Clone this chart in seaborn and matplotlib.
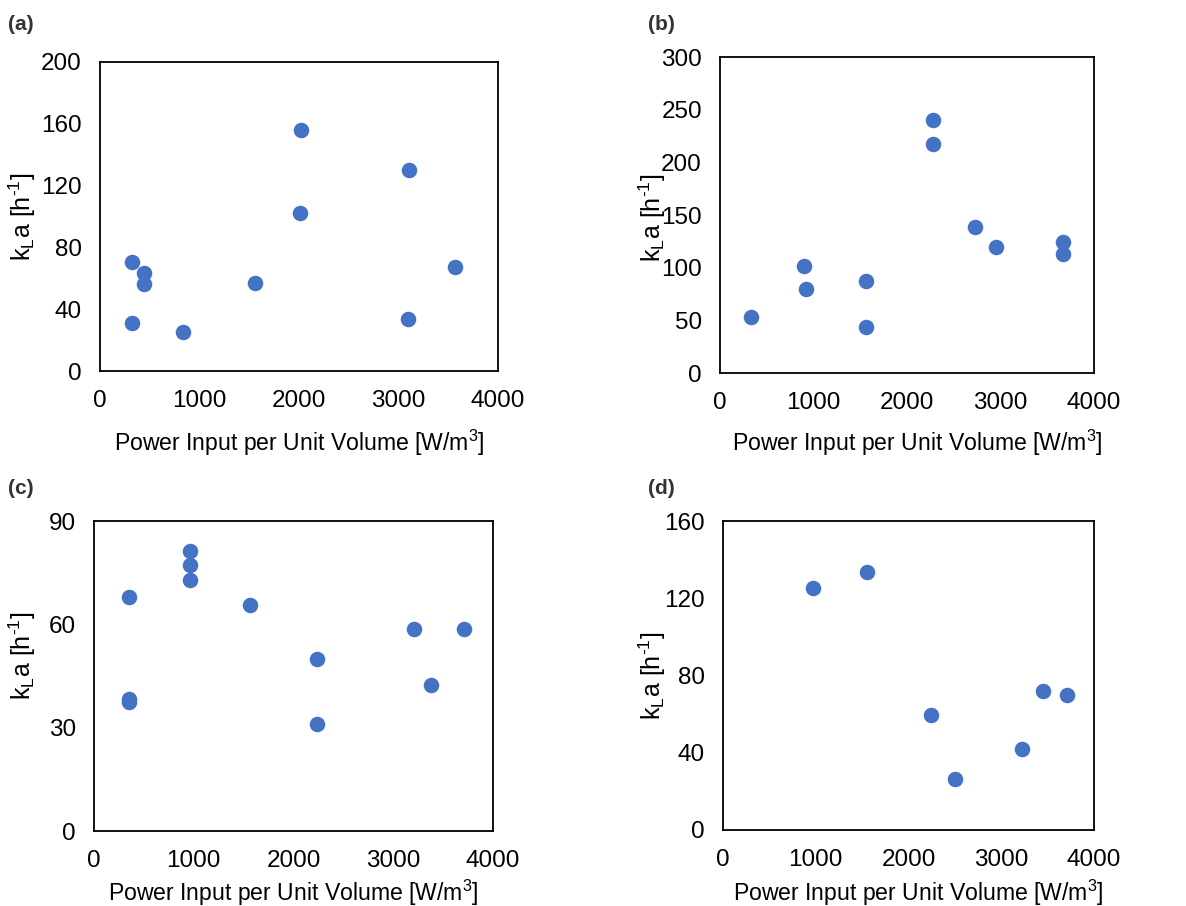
import matplotlib
matplotlib.use("Agg")
import matplotlib.pyplot as plt
import seaborn as sns
import pandas as pd

sns.set_theme(style="white")
plt.rcParams['font.family'] = ['Liberation Sans', 'DejaVu Sans']
plt.rcParams['mathtext.fontset'] = 'custom'
plt.rcParams['mathtext.rm'] = 'Liberation Sans'
plt.rcParams['mathtext.it'] = 'Liberation Sans:italic'

# Data
a_power = [321, 321, 438, 438, 830, 1560, 2008, 2018, 3110, 3100, 3568]
a_kla = [70.8, 31.1, 63.5, 56.2, 25.1, 56.8, 102.2, 155.9, 130.0, 33.9, 67.0]

b_power = [328, 895, 923, 1561, 1561, 2278, 2278, 2724, 2952, 3668, 3668]
b_kla = [53.2, 101.4, 79.5, 87.4, 43.4, 239.8, 217.0, 138.4, 119.4, 123.9, 113.4]

c_power = [348, 348, 348, 964, 964, 964, 1560, 2236, 2236, 3213, 3381, 3712]
c_kla = [68.0, 38.3, 37.4, 81.2, 77.1, 72.9, 65.7, 50.0, 31.2, 58.6, 42.3, 58.6]

d_power = [970, 1556, 2246, 2498, 3227, 3450, 3712]
d_kla = [125.5, 133.8, 59.5, 26.4, 42.1, 71.8, 70.1]

panel_labels = ["(a)", "(b)", "(c)", "(d)"]
y_max = [200, 300, 90, 160]
y_step = [40, 50, 30, 40]
x_ticks = [0, 1000, 2000, 3000, 4000]

xlabel = "Power Input per Unit Volume [W/m$^{3}$]"
ylabel = "k$_{\\mathrm{L}}$a [h$^{\\text{-}1}$]"

W, H = 1186, 906
fig = plt.figure(figsize=(W / 100, H / 100), dpi=100)

# axes boxes in pixels: left, right, top, bottom
boxes = [(100, 498, 62, 371), (720, 1094, 57, 373),
         (94, 493, 521, 831), (723, 1094, 521, 830)]
ylab_pos = [(-0.155, 0.5), (-0.138, 0.49), (-0.140, 0.565), (-0.149, 0.5)]
xlab_off = [72, 70, 62, 63]
label_pos = [(8, 25), (648, 25), (8, 488), (648, 488)]

datasets = [(a_power, a_kla), (b_power, b_kla), (c_power, c_kla), (d_power, d_kla)]
color = "#4472C4"

for i, ((xs, ys), (l, r, t, b)) in enumerate(zip(datasets, boxes)):
    ax = fig.add_axes([l / W, 1 - b / H, (r - l) / W, (b - t) / H])
    df = pd.DataFrame({"x": xs, "y": ys})
    sns.scatterplot(data=df, x="x", y="y", ax=ax, color=color, s=125,
                    linewidth=0, zorder=3, clip_on=False)
    ax.set_xlim(0, 4000)
    ax.set_ylim(0, y_max[i])
    ax.set_xticks(x_ticks)
    ax.set_yticks(list(range(0, y_max[i] + 1, y_step[i])))
    ax.tick_params(axis='both', direction='in', length=7, width=1.3,
                   labelsize=17.5, colors='black')
    ax.tick_params(axis='x', pad=14)
    ax.tick_params(axis='y', pad=13)
    for sp in ax.spines.values():
        sp.set_color('black')
        sp.set_linewidth(1.3)
    ax.set_ylabel(ylabel, fontsize=18, color='black')
    ax.yaxis.set_label_coords(*ylab_pos[i])
    ax.set_xlabel("")
    cx = (l + r) / 2 + (10 if i in (1, 3) else 0)
    fig.text(cx / W, 1 - (b + xlab_off[i]) / H, xlabel, fontsize=16.6,
             ha='center', va='center', color='black')
    fig.text(label_pos[i][0] / W, 1 - label_pos[i][1] / H, panel_labels[i],
             fontsize=15, fontweight='bold', ha='left', va='center',
             color='#333333')

fig.savefig("out.png", dpi=100, facecolor='white')
